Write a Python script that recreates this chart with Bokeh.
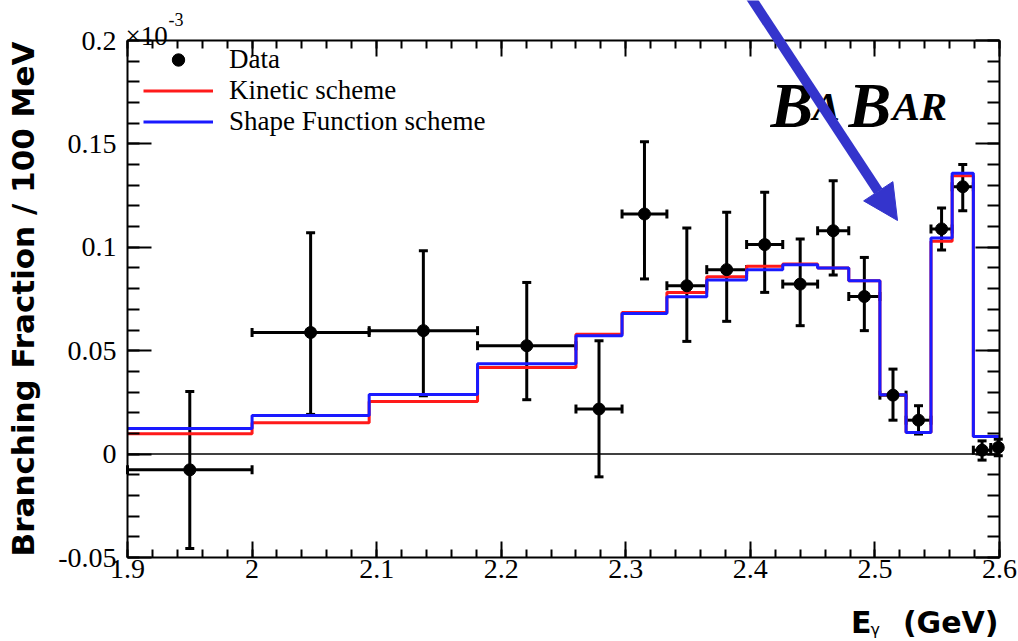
from bokeh.plotting import figure
from bokeh.models import (Range1d, LinearAxis, FixedTicker, ColumnDataSource, Whisker,
                          TeeHead, Label, Arrow, NormalHead, Legend, LegendItem,
                          CustomJSTickFormatter)
from bokeh.embed import file_html
from bokeh.resources import INLINE

# ---------------- data (branching fraction per 100 MeV, units of 1e-3) ----------------
bin_edges = [1.9, 2.0, 2.094, 2.181, 2.26, 2.297, 2.333, 2.365, 2.397, 2.426,
             2.454, 2.479, 2.504, 2.525, 2.545, 2.562, 2.579, 2.593, 2.605]
kinetic = [0.0098, 0.0151, 0.0254, 0.0419, 0.0580, 0.0685, 0.0782, 0.0858, 0.0908,
           0.0919, 0.0900, 0.0838, 0.0287, 0.0105, 0.1029, 0.1346, 0.0085, 0.0085]
shape_fn = [0.0124, 0.0187, 0.0288, 0.0437, 0.0572, 0.0680, 0.0761, 0.0842, 0.0892,
            0.0916, 0.0900, 0.0838, 0.0287, 0.0105, 0.1045, 0.1358, 0.0085, 0.0085]
data_x = [1.95, 2.047, 2.1375, 2.2205, 2.2785, 2.315, 2.349, 2.381, 2.4115,
          2.44, 2.4665, 2.4915, 2.5145, 2.535, 2.5535, 2.5705, 2.586, 2.599]
data_y = [-0.0076, 0.0588, 0.0597, 0.0524, 0.0218, 0.1161, 0.0814, 0.0892, 0.1013,
          0.0822, 0.1080, 0.0762, 0.0285, 0.0164, 0.1089, 0.1293, 0.0019, 0.0032]
data_hi = [0.0303, 0.1070, 0.0983, 0.0830, 0.0548, 0.1511, 0.1093, 0.1169, 0.1266,
           0.1040, 0.1322, 0.0951, 0.0411, 0.0234, 0.1190, 0.1400, 0.0064, 0.0072]
data_lo = [-0.0457, 0.0192, 0.0282, 0.0263, -0.0110, 0.0847, 0.0545, 0.0642, 0.0782,
           0.0621, 0.0866, 0.0597, 0.0164, 0.0097, 0.0987, 0.1177, -0.0029, -0.0008]

x_ticks = [1.9, 2, 2.1, 2.2, 2.3, 2.4, 2.5, 2.6]
x_tick_labels = ["1.9", "2", "2.1", "2.2", "2.3", "2.4", "2.5", "2.6"]
y_ticks = [-0.05, 0, 0.05, 0.1, 0.15, 0.2]
y_tick_labels = ["-0.05", "0", "0.05", "0.1", "0.15", "0.2"]
x_minor = [round(1.9 + 0.02 * i, 3) for i in range(36)]
y_minor = [round(-0.05 + 0.01 * i, 3) for i in range(26)]

# ---------------- layout: the frame covers the whole canvas ----------------
W, H = 1018, 641
FL, FR, FT, FB = 127, 999, 40, 557          # pixel box of the data area
X0, X1, Y0, Y1 = 1.9, 2.6, -0.05, 0.2


def px2x(px):
    return X0 + (px - FL) * (X1 - X0) / (FR - FL)


def px2y(py):
    return Y0 + (FB - py) * (Y1 - Y0) / (FB - FT)


p = figure(width=W, height=H,
           x_range=Range1d(px2x(0), px2x(W)), y_range=Range1d(px2y(H), px2y(0)),
           output_backend="svg", toolbar_location=None,
           x_axis_location=None, y_axis_location=None,
           min_border_left=0, min_border_right=0, min_border_top=0, min_border_bottom=0)
p.grid.visible = False
p.outline_line_color = None
p.background_fill_color = "white"
p.border_fill_color = "white"

SERIF = "Liberation Serif"
JS = ("for (let i = 0; i < tv.length; i++) {"
      "  if (Math.abs(tv[i] - tick) < 1e-9) return tl[i]; }"
      "return '';")


def make_axis(ticks, minor, labels, tin, tmin, show_labels, standoff, loc, bounds):
    ax = LinearAxis(ticker=FixedTicker(ticks=ticks, minor_ticks=minor),
                    formatter=CustomJSTickFormatter(args=dict(tv=ticks, tl=labels), code=JS),
                    fixed_location=loc, bounds=bounds,
                    major_tick_in=tin, major_tick_out=0,
                    minor_tick_in=tmin, minor_tick_out=0,
                    axis_line_width=2, major_tick_line_width=2, minor_tick_line_width=2,
                    axis_line_color="black", major_tick_line_color="black",
                    minor_tick_line_color="black",
                    major_label_text_font=SERIF, major_label_text_font_size="28px",
                    major_label_text_color="black" if show_labels else None,
                    major_label_standoff=standoff)
    return ax


yl = make_axis(y_ticks, y_minor, y_tick_labels, 24, 12, True, 11, X0, (Y0, Y1))
yl.axis_label = "Branching Fraction / 100 MeV"
yl.axis_label_text_font = "DejaVu Sans"
yl.axis_label_text_font_style = "bold"
yl.axis_label_text_font_size = "31px"
yl.axis_label_text_color = "black"
yl.axis_label_standoff = 14
p.add_layout(yl, "left")
p.add_layout(make_axis(y_ticks, y_minor, y_tick_labels, 24, 12, False, 0, X1, (Y0, Y1)), "right")
p.add_layout(make_axis(x_ticks, x_minor, x_tick_labels, 16, 8, True, 2, Y0, (X0, X1)), "below")
p.add_layout(make_axis(x_ticks, x_minor, x_tick_labels, 16, 8, False, 0, Y1, (X0, X1)), "above")

# zero line
p.segment(x0=[X0], y0=[0], x1=[X1], y1=[0], line_color="black", line_width=1.5)

# histograms (clipped to the axis range)
edges_in = [min(e, X1) for e in bin_edges]
r_kin = p.step(x=edges_in, y=kinetic + [kinetic[-1]], mode="after",
               line_color="#ff1a1a", line_width=3)
r_sf = p.step(x=edges_in, y=shape_fn + [shape_fn[-1]], mode="after",
              line_color="#1a1aff", line_width=3)

# data with error bars
src = ColumnDataSource(dict(x=data_x, y=data_y, hi=data_hi, lo=data_lo,
                            xlo=edges_in[:-1], xhi=edges_in[1:]))
head = dict(size=9, line_width=3, line_color="black")
p.add_layout(Whisker(source=src, base="x", upper="hi", lower="lo", dimension="height",
                     line_color="black", line_width=3,
                     upper_head=TeeHead(**head), lower_head=TeeHead(**head)))
p.add_layout(Whisker(source=src, base="y", upper="xhi", lower="xlo", dimension="width",
                     line_color="black", line_width=3,
                     upper_head=TeeHead(**head), lower_head=TeeHead(**head)))
r_data = p.scatter(x="x", y="y", source=src, size=12, color="black")

# legend (location in screen px from the canvas bottom-left)
legend = Legend(items=[LegendItem(label="Data", renderers=[r_data]),
                       LegendItem(label="Kinetic scheme", renderers=[r_kin]),
                       LegendItem(label="Shape Function scheme", renderers=[r_sf])],
                location=(143, 504), padding=0, margin=0, spacing=0,
                glyph_width=70, glyph_height=31, label_height=31, label_standoff=16,
                label_text_font=SERIF, label_text_font_size="27px",
                label_text_color="black",
                border_line_color=None, background_fill_alpha=0)
p.add_layout(legend)


def add_text(px, py, text, font, size, style="normal", align="left"):
    p.add_layout(Label(x=px2x(px), y=px2y(py), text=text, text_font=font,
                       text_font_style=style, text_font_size=size, text_color="black",
                       text_baseline="alphabetic", text_align=align))


# exponent label
add_text(125, 35, "\u00d710", SERIF, "27px")
add_text(168, 19, "-3", SERIF, "18px")

# x axis title
add_text(998, 622, "(GeV)", "DejaVu Sans", "30px", "bold", "right")
add_text(871, 622, "E", "DejaVu Sans", "30px", "bold", "right")
add_text(870, 629, "\u03b3", "DejaVu Sans", "16px")

# BaBar logo
for txt, xp, fs in [("B", 770, "64px"), ("A", 812, "41px"), ("B", 848, "64px"), ("AR", 892, "41px")]:
    add_text(xp, 105, txt, SERIF, fs, "bold italic")

# blue arrow
arrow_col = "#3434cc"
p.add_layout(Arrow(end=NormalHead(size=35, fill_color=arrow_col, line_color=arrow_col, line_width=1),
                   x_start=px2x(749), y_start=px2y(-5), x_end=px2x(897), y_end=px2y(220),
                   line_color=arrow_col, line_width=10))

open("out.html", "w").write(file_html(p, INLINE))
